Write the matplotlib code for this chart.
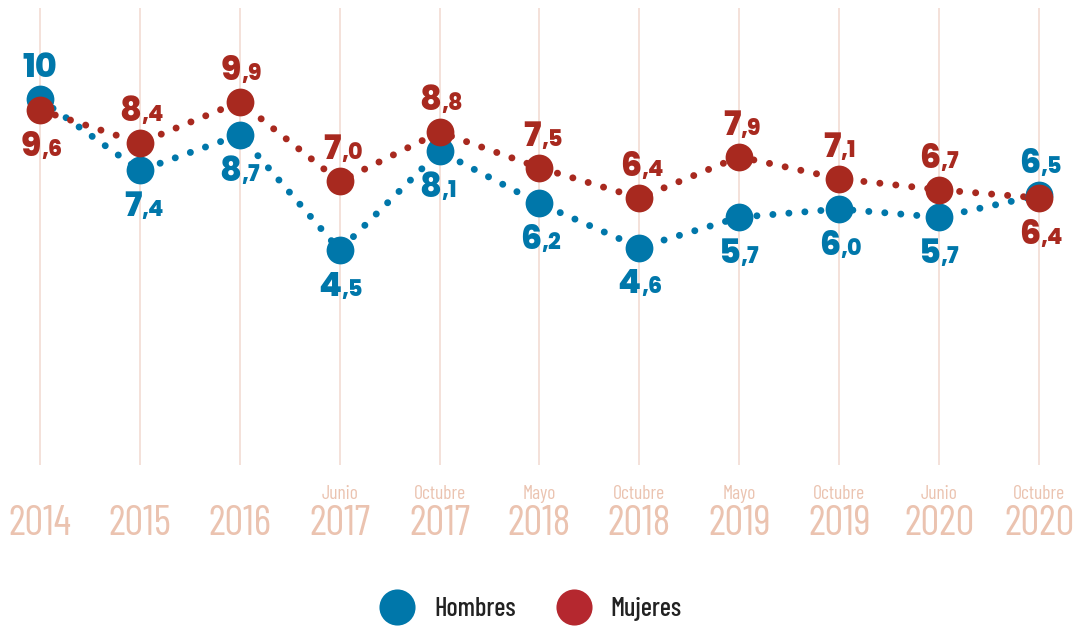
import matplotlib.pyplot as plt
from matplotlib.lines import Line2D

months = ["", "", "", "Junio", "Octubre", "Mayo", "Octubre", "Mayo", "Octubre", "Junio", "Octubre"]
years = ["2014", "2015", "2016", "2017", "2017", "2018", "2018", "2019", "2019", "2020", "2020"]
hombres = [10.0, 7.4, 8.7, 4.5, 8.1, 6.2, 4.6, 5.7, 6.0, 5.7, 6.5]
mujeres = [9.6, 8.4, 9.9, 7.0, 8.8, 7.5, 6.4, 7.9, 7.1, 6.7, 6.4]

# label placement: 'a' above the point, 'b' below
pos_h = ["a", "b", "b", "b", "b", "b", "b", "b", "b", "b", "a"]
pos_m = ["b", "a", "a", "a", "a", "a", "a", "a", "a", "a", "b"]

BLUE = "#0077aa"
RED = "#a8291f"
AXIS_COL = "#ebc3b0"
GRID_COL = "#f2dcd3"
NARROW = ["Barlow Condensed", "Oswald", "Archivo Narrow", "DejaVu Sans"]
BOLD = ["Poppins", "Montserrat", "Lato", "DejaVu Sans"]

fig = plt.figure(figsize=(10.76, 6.27), dpi=100)
ax = fig.add_axes([0, 0, 1, 1])
ax.set_xlim(-0.4, 10.37)
ax.set_ylim(-9.2, 13.6)
ax.axis("off")

x = list(range(len(years)))
ax.vlines(x, -3.3, 13.3, color=GRID_COL, lw=1.2, zorder=0)

dots = (0, (0.01, 2.3))
for vals, col, z in [(hombres, BLUE, 2), (mujeres, RED, 3)]:
    ax.plot(x, vals, color=col, lw=5, linestyle=dots, dash_capstyle="round", zorder=z)
    ax.plot(x, vals, "o", color=col, ms=20, mec="none", zorder=z + 2)


def put_label(xi, v, col, where):
    dy = 16 if where == "a" else -33
    whole, _, dec = f"{v:.1f}".partition(".")
    kw = dict(textcoords="offset points", va="baseline", color=col,
              fontweight="heavy", family=BOLD, zorder=6)
    if v == 10:
        ax.annotate("10", (xi, v), xytext=(0, dy), ha="center", fontsize=24, **kw)
        return
    ax.annotate(whole, (xi, v), xytext=(1, dy), ha="right", fontsize=24, **kw)
    ax.annotate("," + dec, (xi, v), xytext=(1, dy), ha="left", fontsize=16, **kw)


for i in x:
    put_label(i, hombres[i], BLUE, pos_h[i])
    put_label(i, mujeres[i], RED, pos_m[i])

tr = ax.get_xaxis_transform()
for i in x:
    ax.text(i, 0.163, years[i], transform=tr, ha="center", va="center",
            color=AXIS_COL, fontsize=30, family=NARROW)
    if months[i]:
        ax.text(i, 0.212, months[i], transform=tr, ha="center", va="center",
                color=AXIS_COL, fontsize=14, family=NARROW)

handles = [
    Line2D([], [], marker="o", ls="none", color="#0077aa", ms=26, mec="none"),
    Line2D([], [], marker="o", ls="none", color="#b5282f", ms=26, mec="none"),
]
fig.legend(handles, ["Hombres", "Mujeres"], loc="center", ncol=2,
           bbox_to_anchor=(0.489, 0.028), frameon=False, handletextpad=0.4,
           columnspacing=1.2, prop={"family": NARROW, "size": 19, "weight": "medium"},
           labelcolor="#222222")

fig.savefig("out.png", dpi=100)
